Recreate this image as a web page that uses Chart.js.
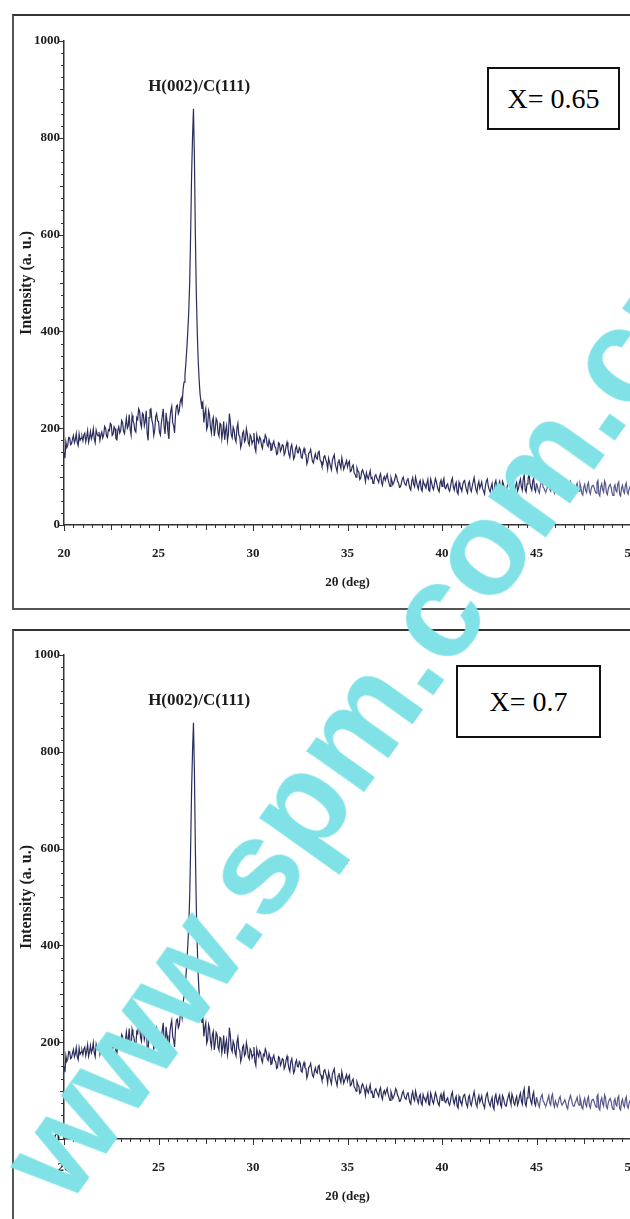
<!DOCTYPE html>
<html>
<head>
<meta charset="utf-8">
<script src="https://cdn.jsdelivr.net/npm/chart.js@4.4.1/dist/chart.umd.min.js"></script>
<style>
  html, body { margin: 0; padding: 0; background: #fff; }
  body { width: 630px; height: 1219px; overflow: hidden; position: relative; }
  .frame { position: absolute; left: 12px; width: 660px; border: 2px solid #555; border-top-color: #333; box-sizing: border-box; }
  .panel { position: absolute; left: 0; }
  .xbox {
    position: absolute; border: 2px solid #111; background: #fff; box-sizing: border-box;
    font-family: 'Liberation Serif', 'Times New Roman', serif; font-size: 28px; color: #000;
    display: flex; align-items: center; justify-content: center;
  }
  .watermark {
    position: absolute; left: 68px; top: 1208px; transform-origin: 0 0;
    transform: rotate(-54.5deg) translateY(-0.8465em);
    white-space: nowrap; line-height: 1;
    font-family: 'Liberation Sans', Arial, sans-serif; font-weight: bold; font-size: 134px; color: #80e2e6;
    pointer-events: none;
  }
</style>
</head>
<body>
<div class="frame" style="top:14px;height:596px"></div>
<div class="frame" style="top:629px;height:700px"></div>
<canvas id="c065" class="panel" width="660" height="610" style="top:0px"></canvas>
<canvas id="c07" class="panel" width="660" height="610" style="top:614px"></canvas>
<div class="xbox" style="left:487px;top:67px;width:133px;height:63px">X= 0.65</div>
<div class="xbox" style="left:456px;top:665px;width:145px;height:73px">X= 0.7</div>
<div class="watermark">www.spm.com.cn</div>
<script>
// XRD scan, 2θ from 20 to 50 deg, one reading every 0.05 deg
const scanStart = 20;
const scanStep = 0.05;

const intensityX065 = [
  150, 138, 172, 160, 165, 181, 180, 166, 168, 178, 185, 170, 176, 189, 170, 164, 188, 175, 179, 183,
  174, 186, 190, 172, 182, 195, 171, 180, 193, 178, 185, 199, 178, 170, 196, 188, 184, 192, 175, 186,
  192, 180, 186, 204, 200, 184, 181, 197, 195, 210, 207, 185, 188, 203, 199, 178, 176, 196, 203, 190,
  195, 216, 212, 194, 189, 205, 221, 200, 205, 228, 198, 186, 226, 215, 210, 195, 192, 222, 218, 240,
  235, 210, 202, 231, 228, 205, 214, 236, 190, 175, 222, 238, 240, 216, 208, 185, 196, 224, 230, 215,
  214, 192, 186, 210, 225, 240, 201, 188, 232, 214, 192, 178, 219, 236, 245, 212, 205, 190, 228, 246,
  248, 230, 236, 255, 262, 250, 280, 295, 310, 335, 365, 400, 440, 500, 600, 720, 800, 860, 760, 600,
  480, 400, 340, 300, 270, 255, 240, 250, 212, 230, 240, 198, 205, 236, 228, 202, 190, 215, 222, 184,
  198, 220, 215, 190, 184, 210, 208, 178, 192, 214, 176, 195, 205, 174, 188, 230, 214, 186, 180, 202,
  196, 178, 172, 200, 210, 186, 183, 160, 168, 190, 194, 172, 176, 199, 188, 170, 165, 186, 182, 168,
  174, 190, 160, 152, 186, 176, 170, 182, 178, 164, 158, 175, 172, 186, 181, 166, 162, 176, 169, 154,
  155, 168, 173, 162, 160, 146, 148, 170, 168, 152, 157, 166, 164, 145, 150, 163, 171, 158, 146, 140,
  160, 166, 152, 136, 141, 158, 163, 150, 149, 160, 156, 140, 138, 152, 158, 147, 145, 126, 133, 148,
  150, 156, 142, 131, 128, 140, 147, 138, 136, 150, 152, 134, 131, 122, 125, 141, 143, 135, 129, 116,
  138, 130, 121, 114, 134, 140, 145, 126, 118, 110, 130, 136, 124, 117, 139, 128, 115, 121, 127, 133,
  120, 128, 132, 110, 112, 121, 124, 108, 105, 99, 118, 112, 109, 94, 97, 110, 114, 107, 102, 90,
  108, 100, 95, 104, 112, 96, 98, 86, 90, 101, 104, 97, 93, 88, 101, 106, 88, 82, 96, 100,
  92, 99, 105, 93, 86, 80, 98, 91, 83, 88, 94, 104, 100, 90, 87, 78, 79, 86, 95, 99,
  89, 84, 82, 93, 97, 85, 76, 72, 91, 98, 84, 79, 99, 90, 80, 74, 88, 92, 74, 70,
  92, 85, 81, 76, 86, 94, 72, 70, 95, 88, 78, 73, 84, 96, 90, 80, 73, 69, 87, 93,
  80, 89, 96, 77, 75, 82, 85, 74, 70, 79, 91, 97, 79, 72, 83, 88, 68, 64, 88, 81,
  77, 70, 84, 90, 92, 80, 71, 66, 86, 90, 74, 69, 80, 89, 98, 84, 72, 67, 83, 90,
  76, 82, 89, 75, 70, 64, 82, 91, 95, 80, 73, 68, 79, 86, 67, 62, 86, 92, 78, 72,
  84, 90, 71, 66, 90, 85, 75, 69, 68, 80, 87, 94, 80, 72, 93, 86, 74, 70, 82, 88,
  70, 76, 88, 95, 79, 72, 96, 104, 73, 68, 85, 92, 110, 88, 78, 72, 90, 97, 74, 69,
  86, 80, 71, 66, 80, 88, 92, 78, 76, 70, 69, 75, 83, 90, 74, 70, 88, 93, 72, 66,
  79, 73, 67, 74, 84, 88, 75, 70, 70, 77, 81, 74, 66, 62, 77, 84, 90, 82, 72, 68,
  68, 75, 80, 86, 74, 70, 86, 78, 65, 62, 78, 84, 71, 67, 83, 88, 69, 64, 76, 81,
  82, 77, 70, 66, 88, 92, 64, 60, 79, 85, 73, 68, 91, 86, 67, 63, 75, 81, 84, 77,
  66, 61, 78, 83, 71, 68, 85, 89, 63, 60, 76, 82, 70, 66, 82, 87, 68, 64, 74, 79,
  72
];

// the X = 0.7 panel shows the same trace in the source figure
const intensityX07 = intensityX065;

const xTickLabels = [20, 25, 30, 35, 40, 45, 50];
const yTickLabels = [0, 200, 400, 600, 800, 1000];
const peakLabel = { text: 'H(002)/C(111)', x: 27.15, y: 905 };

const serif = "'Liberation Serif', 'Times New Roman', serif";
const inkColor = '#1c1c1c';

function toPoints(values) {
  return values.map((v, i) => ({ x: +(scanStart + i * scanStep).toFixed(2), y: v }));
}

// axis tick marks: long at labels, medium at halves, short in between
const tickMarks = {
  id: 'tickMarks',
  afterDraw(chart) {
    const { ctx, scales: { x, y } } = chart;
    ctx.save();
    ctx.strokeStyle = '#333';
    ctx.lineWidth = 1;
    ctx.beginPath();
    for (let i = 0; i <= 60; i++) {
      const len = i % 10 === 0 ? 6 : (i % 5 === 0 ? 5 : 3);
      const px = Math.round(x.getPixelForValue(20 + i * 0.5)) + 0.5;
      ctx.moveTo(px, y.bottom);
      ctx.lineTo(px, y.bottom + len);
    }
    for (let i = 0; i <= 40; i++) {
      const len = i % 8 === 0 ? 5 : (i % 4 === 0 ? 4 : 3);
      const py = Math.round(y.getPixelForValue(i * 25)) + 0.5;
      ctx.moveTo(x.left, py);
      ctx.lineTo(x.left - len, py);
    }
    ctx.stroke();
    ctx.restore();
  }
};

const peakText = {
  id: 'peakText',
  afterDatasetsDraw(chart) {
    const { ctx, scales: { x, y } } = chart;
    ctx.save();
    ctx.font = 'bold 17px ' + serif;
    ctx.fillStyle = inkColor;
    ctx.textAlign = 'center';
    ctx.textBaseline = 'middle';
    ctx.fillText(peakLabel.text, x.getPixelForValue(peakLabel.x), y.getPixelForValue(peakLabel.y));
    ctx.restore();
  }
};

function makeChart(id, values) {
  return new Chart(document.getElementById(id), {
    type: 'line',
    data: {
      datasets: [{
        data: toPoints(values),
        borderColor: '#2a2d5c',
        borderWidth: 1.2,
        pointRadius: 0,
        tension: 0,
        fill: false,
        // the tail of the scan is printed paler in the source
        segment: { borderColor: (c) => (c.p0.parsed.x >= 45 ? '#55588a' : undefined) }
      }]
    },
    options: {
      responsive: false,
      animation: false,
      events: [],
      layout: { padding: { top: 41, left: 0, right: 29, bottom: 0 } },
      plugins: { legend: { display: false }, tooltip: { enabled: false } },
      scales: {
        x: {
          type: 'linear',
          min: 20,
          max: 50,
          afterBuildTicks: (s) => { s.ticks = xTickLabels.map(v => ({ value: v })); },
          afterFit: (s) => { s.height = 85; s.paddingLeft = 0; s.paddingRight = 0; },
          grid: { display: false, drawTicks: true, tickLength: 4 },
          border: { display: true, color: '#333', width: 1.5 },
          ticks: { font: { family: serif, size: 13, weight: 'bold' }, color: inkColor, padding: 17, maxRotation: 0,
                   callback: (v) => String(v) },
          title: { display: true, text: '2θ (deg)', font: { family: serif, size: 13, weight: 'bold' }, color: inkColor,
                   padding: { top: 0, bottom: 20 } }
        },
        y: {
          min: 0,
          max: 1000,
          afterBuildTicks: (s) => { s.ticks = yTickLabels.map(v => ({ value: v })); },
          afterFit: (s) => { s.width = 64; },
          grid: { display: false, drawTicks: true, tickLength: 4 },
          border: { display: true, color: '#333', width: 1.5 },
          ticks: { font: { family: serif, size: 13, weight: 'bold' }, color: inkColor, padding: 0,
                   callback: (v) => String(v) },
          title: { display: true, text: 'Intensity (a. u.)', font: { family: serif, size: 16, weight: 'bold' }, color: inkColor,
                   padding: { top: 17, bottom: 0 } }
        }
      }
    },
    plugins: [tickMarks, peakText]
  });
}

makeChart('c065', intensityX065);
makeChart('c07', intensityX07);
</script>
</body>
</html>
